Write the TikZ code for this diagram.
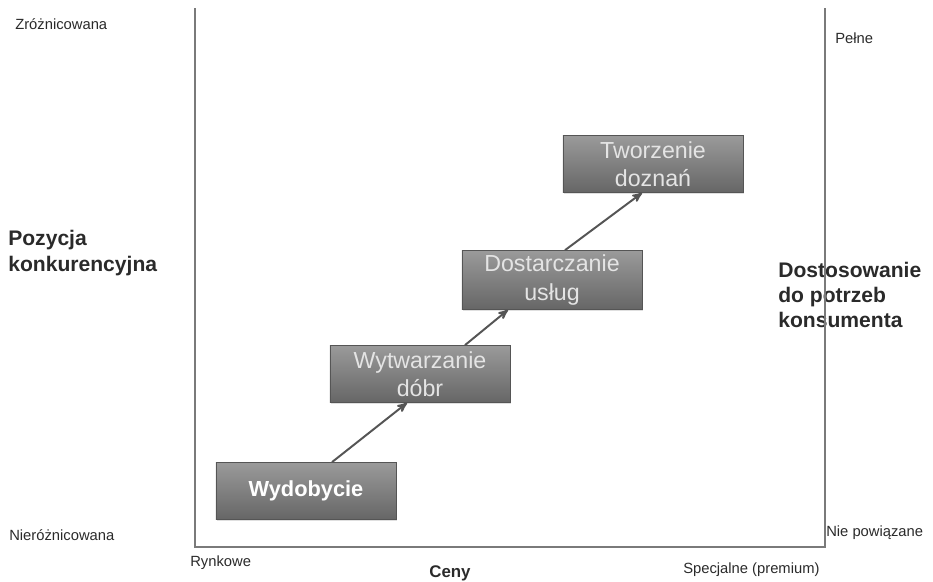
\documentclass[tikz,border=0pt]{standalone}
\usepackage{fontspec}
\setmainfont{Liberation Sans}
\usepackage{tikz}
\usetikzlibrary{arrows,calc,positioning,shadows}
\definecolor{axisgray}{HTML}{7A7A7A}
\definecolor{boxtop}{HTML}{9A9A9A}
\definecolor{boxbottom}{HTML}{666666}
\definecolor{boxedge}{HTML}{555555}
\definecolor{boxtext}{HTML}{E4E4E4}
\definecolor{labeltext}{HTML}{2A2A2A}
\tikzset{%
	stage/.style     = {draw=boxedge, rectangle, top color=boxtop, bottom color=boxbottom, minimum width=4.5cm, minimum height=1.43cm, text centered, align=center, text=boxtext, font=\fontsize{16.5}{20}\selectfont, drop shadow={shadow xshift=1pt, shadow yshift=-1pt, opacity=0.25}},
	corner/.style    = {anchor=west, inner sep=0pt, text=labeltext, font=\fontsize{10.5}{12}\selectfont}, % small axis ends
	sidetitle/.style = {anchor=west, inner sep=0pt, align=left, text=labeltext, font=\fontsize{15}{18}\selectfont\bfseries}, % axis names
	axis/.style      = {draw=axisgray, line width=1.5pt},
	arrow/.style     = {draw=boxedge, line width=1.4pt, ->, >=stealth'},
}

\begin{document}
\begin{tikzpicture}[x=0.025cm,y=-0.025cm]
	\useasboundingbox (0,0) rectangle (933,581);
	% labels round the frame
	\node [corner] (zroz) at (15,24) {Zróżnicowana};
	\node [corner] (nieroz) at (9,535) {Nieróżnicowana};
	\node [corner] (pelne) at (835,38) {Pełne};
	\node [corner] (niepow) at (826,533) {Nie powiązane};
	\node [corner] (rynk) at (190,563) {Rynkowe};
	\node [corner] (spec) at (683,570) {Specjalne (premium)};
	\node [sidetitle] (pozycja) at (8,253) {Pozycja\\konkurencyjna};
	\node [sidetitle] (dostos) at (778,295) {Dostosowanie\\do potrzeb\\konsumenta};
	\node [sidetitle, anchor=center, font=\fontsize{12}{14}\selectfont\bfseries] (ceny) at (450,573) {Ceny};
	% frame
	\coordinate (tl) at (195,8);
	\coordinate (bl) at (195,547);
	\coordinate (br) at (825,547);
	\coordinate (tr) at (825,8);
	\draw [axis] (tl) -- (bl) -- (br) -- (tr);
	% stages
	\node [stage, text=white, font=\fontsize{15.5}{18}\selectfont\bfseries] (wyd) at (306,491) {Wydobycie};
	\node [stage] (wyt) at (420,374) {Wytwarzanie\\dóbr};
	\node [stage] (dost) at (552,280) {Dostarczanie\\usług};
	\node [stage] (tworz) at (653,164) {Tworzenie\\doznań};
	\draw [arrow] ($(wyd.north)+(26,0)$) -- ($(wyt.south)+(-13,0)$);
	\draw [arrow] ($(wyt.north)+(45,0)$) -- ($(dost.south)+(-44,0)$);
	\draw [arrow] ($(dost.north)+(13,0)$) -- ($(tworz.south)+(-11,0)$);
\end{tikzpicture}
\end{document}
